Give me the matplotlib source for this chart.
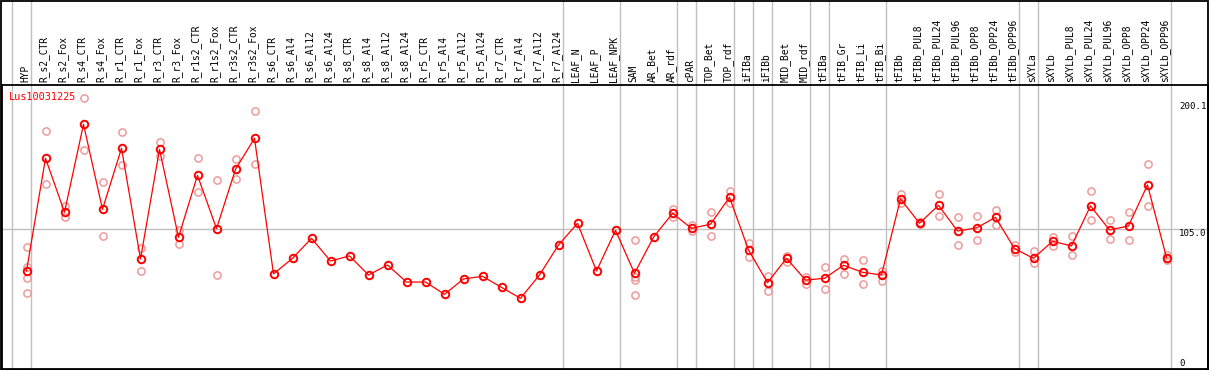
import matplotlib
matplotlib.use("Agg")
import matplotlib.pyplot as plt
from matplotlib.patches import Rectangle
import matplotlib.transforms as mtransforms

labels = ["HYP", "R_s2_CTR", "R_s2_Fox", "R_s4_CTR", "R_s4_Fox", "R_r1_CTR", "R_r1_Fox",
          "R_r3_CTR", "R_r3_Fox", "R_r1s2_CTR", "R_r1s2_Fox", "R_r3s2_CTR", "R_r3s2_Fox",
          "R_s6_CTR", "R_s6_Al4", "R_s6_Al12", "R_s6_Al24", "R_s8_CTR", "R_s8_Al4",
          "R_s8_Al12", "R_s8_Al24", "R_r5_CTR", "R_r5_Al4", "R_r5_Al12", "R_r5_Al24",
          "R_r7_CTR", "R_r7_Al4", "R_r7_Al12", "R_r7_Al24", "LEAF_N", "LEAF_P", "LEAF_NPK",
          "SAM", "AR_Bet", "AR_rdf", "cPAR", "TOP_Bet", "TOP_rdf", "iFIBa", "iFIBb",
          "MID_Bet", "MID_rdf", "tFIBa", "tFIB_Gr", "tFIB_Li", "tFIB_Bi", "tFIBb",
          "tFIBb_PUL8", "tFIBb_PUL24", "tFIBb_PUL96", "tFIBb_OPP8", "tFIBb_OPP24",
          "tFIBb_OPP96", "sXYLa", "sXYLb", "sXYLb_PUL8", "sXYLb_PUL24", "sXYLb_PUL96",
          "sXYLb_OPP8", "sXYLb_OPP24", "sXYLb_OPP96"]

means = [73.2, 157.8, 117.3, 183.3, 119.5, 165.3, 82.2, 164.5, 98.5, 145.0, 105.0, 149.5,
         172.8, 71.0, 82.7, 97.7, 80.7, 84.5, 70.2, 77.7, 64.9, 64.9, 55.7, 67.2, 69.2,
         60.9, 52.7, 70.2, 92.7, 109.0, 73.2, 103.7, 71.5, 98.5, 116.5, 105.2, 108.3,
         128.5, 89.0, 64.4, 82.7, 66.4, 67.7, 77.5, 72.2, 70.2, 127.3, 109.0, 122.5,
         103.2, 105.5, 113.5, 90.0, 82.7, 95.5, 92.0, 122.0, 104.0, 107.0, 137.8, 83.2]

replicates = [
    [91.5, 76.4, 67.7, 56.4], [178.3, 138.3], [122.0, 113.5], [202.8, 163.8],
    [139.8, 99.5], [177.3, 152.6], [90.7, 73.2], [169.8, 159.5], [104.0, 93.2],
    [157.8, 132.3], [141.3, 70.0], [157.0, 142.0], [193.1, 153.3],
    [], [], [], [], [], [], [], [], [], [], [], [], [], [], [], [], [], [], [],
    [96.2, 68.9, 66.4, 54.9], [], [119.5, 114.0], [108.0, 103.5], [117.3, 99.5],
    [133.3, 124.0], [94.0, 83.9], [69.7, 58.2], [84.5, 80.0], [68.9, 63.2],
    [76.0, 59.5], [82.0, 70.7], [81.2, 63.2], [73.4, 65.5], [130.8, 124.0],
    [109.6, 108.4], [130.8, 114.7], [113.5, 92.7], [114.5, 96.2], [119.0, 107.5],
    [92.7, 87.2], [88.2, 79.4], [99.0, 92.0], [99.5, 85.0], [133.0, 111.3],
    [111.5, 97.0], [117.3, 96.2], [153.3, 121.8], [85.2, 81.5],
]

# columns after which a group separator is drawn
separators = [-1, 0, 28, 31, 34, 35, 37, 38, 39, 41, 42, 45, 52, 53, 60]
ytick_vals = [0, 105.0, 200.1]
gene = "Lus10031225"

W, H = 1209, 370
fig = plt.figure(figsize=(W / 100, H / 100), dpi=100)
ax_left, ax_right, ax_top, ax_bot = 1.5, 1208, 85, 368.5
ax = fig.add_axes([ax_left / W, 1 - ax_bot / H, (ax_right - ax_left) / W, (ax_bot - ax_top) / H])

step = 19.0
x0 = 26.5
ax.set_xlim((ax_left - x0) / step, (ax_right - x0) / step)
ax.set_ylim(0, 212.8)
ax.set_xticks([])
ax.set_yticks([])
for s in ax.spines.values():
    s.set_color("black")
    s.set_linewidth(1.3)

grid_col = "#c0c0c0"
ext = ax_bot / (ax_bot - ax_top)
for sep in separators:
    ax.axvline(sep + 4 / step, ymin=0, ymax=ext, color=grid_col, lw=1.0, clip_on=False, zorder=1)
ax.axhline(105.0, color=grid_col, lw=1.0, zorder=1)

xs = list(range(len(labels)))
for i, reps in enumerate(replicates):
    if reps:
        ax.plot([i] * len(reps), reps, "o", ms=5.2, mfc="none", mec="#ee9a9a", mew=1.1, zorder=2)
ax.plot(xs, means, "-", color="red", lw=0.9, zorder=3)
ax.plot(xs, means, "o", ms=5.4, mfc="none", mec="red", mew=1.4, zorder=4)

mono = "DejaVu Sans Mono"
trans = mtransforms.blended_transform_factory(ax.transData, ax.transAxes)
for i, lab in enumerate(labels):
    ax.text(i - 0.08, 1 + 3 / (ax_bot - ax_top), lab, transform=trans, rotation=90,
            ha="center", va="bottom", fontsize=6.9, family=mono, clip_on=False)

ytrans = ax.get_yaxis_transform()
xt = (1179 - ax_left) / (ax_right - ax_left)
for v in ytick_vals:
    if v == 0:
        ax.text(xt, v, "0", transform=ytrans, ha="left", va="bottom", fontsize=6.6,
                family=mono, clip_on=False)
    else:
        ax.text(xt, v, f"{v:.1f}", transform=ytrans, ha="left", va="top", fontsize=6.6,
                family=mono, clip_on=True)

ax.text((9 - ax_left) / (ax_right - ax_left), 1 - (97 - ax_top) / (ax_bot - ax_top), gene,
        transform=ax.transAxes, ha="left", va="center", color="red", fontsize=7.4, family=mono)

fig.patches.append(Rectangle((0.5 / W, 0.5 / H), (W - 2) / W, (H - 1.5) / H,
                             transform=fig.transFigure, fill=False, edgecolor="black", lw=1.3))

fig.savefig("out.png", dpi=100)
